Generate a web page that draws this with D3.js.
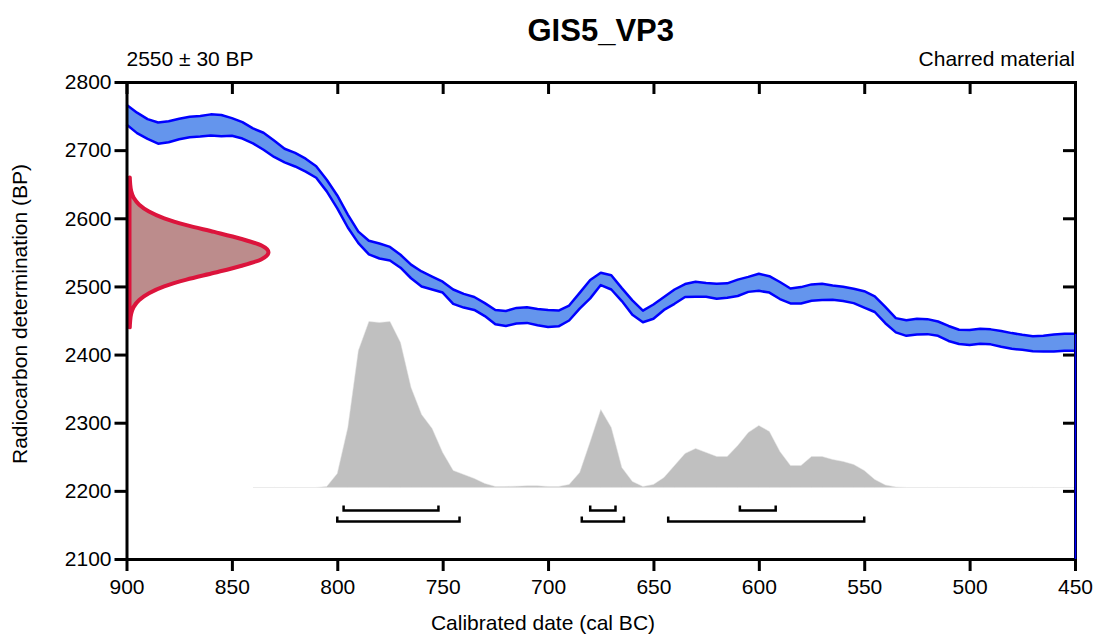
<!DOCTYPE html>
<html>
<head>
<meta charset="utf-8">
<script src="https://cdn.jsdelivr.net/npm/d3@7"></script>
<style>
  body { margin: 0; background: #fff; }
  svg { font-family: "Liberation Sans", Arial, sans-serif; }
</style>
</head>
<body>
<div id="chart"></div>
<script>
// Calibration plot, drawn with d3

// calibration curve (cal BC -> radiocarbon BP, mean and 1 sigma)
var calYears = [900,895,890,885,880,875,870,865,860,855,850,845,840,835,830,825,820,815,810,805,
  800,795,790,785,780,775,770,765,760,755,750,745,740,735,730,725,720,715,710,705,
  700,695,690,685,680,675,670,665,660,655,650,645,640,635,630,625,620,615,610,605,
  600,595,590,585,580,575,570,565,560,555,550,545,540,535,530,525,520,515,510,505,
  500,495,490,485,480,475,470,465,460,455,450];
var calMean = [2752,2740,2731,2725,2727,2731,2734,2735,2737,2736,2734,2729,2721,2713,2702,2692,2686,2678,2668,2648,
  2624,2596,2572,2557,2552,2548,2537,2522,2511,2505,2499,2485,2479,2475,2466,2455,2453,2457,2458,2455,
  2453,2453,2461,2479,2496,2511,2506,2488,2469,2456,2463,2475,2485,2494,2496,2495,2493,2494,2498,2503,
  2506,2503,2494,2486,2487,2491,2492,2491,2489,2486,2481,2474,2458,2443,2439,2441,2441,2438,2431,2426,
  2425,2427,2426,2423,2420,2418,2416,2416,2417,2418,2418];
var calSigma = [14.5,15,14.5,15.5,15.5,15,15,15,15.5,15.5,13,12,11,12.5,12,10,10,9.5,8.5,8.5,
  9.5,9.5,8.5,10,11,10,9.5,10,11,9.5,8,10.5,10,9.5,9.5,10.5,11,11.5,11.5,12,
  12.5,11.5,11,11.5,13.5,9,10.5,9.5,10.5,8.5,10.5,9.5,10.5,9.5,11,10,11,10.5,12,11,
  12.5,12,12.5,11,12,12,12,10.5,10.5,10.5,12,11.5,12,10.5,11.5,11.5,11,10.5,11,10.5,
  11,11,11,11.5,11.5,11,11,11.5,12.5,12.5,12.5];

// measured date 2550 +- 30 BP, relative probability
var measBP = [2660,2650,2640,2630,2620,2610,2600,2590,2580,2570,2560,2550,
  2540,2530,2520,2510,2500,2490,2480,2470,2460,2450,2440];
var measProb = [0.002,0.005,0.012,0.03,0.07,0.14,0.25,0.41,0.61,0.8,0.95,1,
  0.95,0.8,0.61,0.41,0.25,0.14,0.07,0.03,0.012,0.005,0.002];

// calibrated distribution (relative)
var postYears = [840,835,830,825,820,815,810,805,800,795,790,785,780,775,770,765,760,755,750,745,
  740,735,730,725,720,715,710,705,700,695,690,685,680,675,670,665,660,655,650,645,
  640,635,630,625,620,615,610,605,600,595,590,585,580,575,570,565,560,555,550,545,
  540,535,530,525,520,515,510,505,500,495,490,485,480,475,470,465,460,455,450];
var postProb = [0,0,0,0,0,0,0,1,14,60,137,166,165,166,145,100,73,59,35,17,
  13,9,4,1,1,1.3,1.7,1.7,1,1,3,15,46,78,60,20,6,1,3,10,
  22,34,39,35,31,31,42,55,62,56,36,22,22,31,31,28,26,23,17,8,
  2.5,0.5,0,0,0,0,0,0,0,0,0,0,0,0,0,0,0,0,0];

// ranges (cal BC)
var range68 = [[797,752],[680,668],[609,592]];
var range95 = [[800,742],[684,664],[643,550]];

var xTicks = [900,850,800,750,700,650,600,550,500,450];
var yTicks = [2100,2200,2300,2400,2500,2600,2700,2800];

var width = 1093, height = 634;
var margin = {top: 82, right: 18, bottom: 75, left: 126.5};

var svg = d3.select("#chart").append("svg")
  .attr("width", width)
  .attr("height", height);

var x = d3.scaleLinear().domain([900, 450]).range([margin.left, width - margin.right]);
var y = d3.scaleLinear().domain([2100, 2800]).range([height - margin.bottom, margin.top]);

// titles
svg.append("text")
  .attr("x", (margin.left + width - margin.right) / 2)
  .attr("y", 41)
  .attr("text-anchor", "middle")
  .style("font-size", "31px")
  .style("font-weight", "bold")
  .text("GIS5_VP3");

svg.append("text")
  .attr("x", margin.left)
  .attr("y", 66)
  .style("font-size", "21px")
  .text("2550 \u00b1 30 BP");

svg.append("text")
  .attr("x", width - margin.right)
  .attr("y", 66)
  .attr("text-anchor", "end")
  .style("font-size", "21px")
  .text("Charred material");

// calibrated distribution (grey)
var base = y(2205);
var hScale = d3.scaleLinear().domain([0, d3.max(postProb)]).range([0, 166]);
var post = postYears.map(function(d, i){ return {yr: d, p: postProb[i]}; });
svg.append("path")
  .datum(post)
  .attr("fill", "#c0c0c0")
  .attr("stroke", "#e2e2e2")
  .attr("stroke-width", 0.5)
  .attr("d", d3.area()
    .x(function(d){ return x(d.yr); })
    .y0(base)
    .y1(function(d){ return base - hScale(d.p); }));

// range brackets
function brackets(ranges, rowY) {
  svg.append("g").selectAll("path")
    .data(ranges)
    .enter()
    .append("path")
      .attr("fill", "none")
      .attr("stroke", "#000")
      .attr("stroke-width", 2.5)
      .attr("d", function(d){
        return "M" + x(d[0]) + "," + (rowY - 5) + "V" + rowY + "H" + x(d[1]) + "V" + (rowY - 5);
      });
}
brackets(range68, base + 23);
brackets(range95, base + 34);

// measured date (red)
var x0 = margin.left + 3;
var dScale = d3.scaleLinear().domain([0, 1]).range([x0, x0 + 139]);
var meas = measBP.map(function(d, i){ return {bp: d, p: measProb[i]}; });
svg.append("path")
  .datum(meas)
  .attr("fill", "#bc8c8c")
  .attr("stroke", "#dc143c")
  .attr("stroke-width", 4)
  .attr("stroke-linejoin", "round")
  .attr("d", d3.area()
    .y(function(d){ return y(d.bp); })
    .x0(x0)
    .x1(function(d){ return dScale(d.p); })
    .curve(d3.curveMonotoneY));

// calibration curve (blue band)
var cal = calYears.map(function(d, i){
  return {yr: d, hi: calMean[i] + calSigma[i], lo: calMean[i] - calSigma[i]};
});
svg.append("path")
  .datum(cal)
  .attr("fill", "#6495ed")
  .attr("d", d3.area()
    .x(function(d){ return x(d.yr); })
    .y0(function(d){ return y(d.lo); })
    .y1(function(d){ return y(d.hi); }));

["hi", "lo"].forEach(function(k){
  svg.append("path")
    .datum(cal)
    .attr("fill", "none")
    .attr("stroke", "#0000ff")
    .attr("stroke-width", 2.5)
    .attr("stroke-linejoin", "round")
    .attr("d", d3.line()
      .x(function(d){ return x(d.yr); })
      .y(function(d){ return y(d[k]); }));
});

// axes
function styleAxis(g) {
  g.select(".domain").attr("stroke-width", 3).attr("stroke-linecap", "square");
  g.selectAll(".tick line").attr("stroke-width", 3);
  g.selectAll(".tick text").style("font-size", "21px").attr("fill", "#000");
}

svg.append("g")
  .attr("transform", "translate(0," + y(2100) + ")")
  .call(d3.axisBottom(x).tickValues(xTicks).tickSize(12).tickPadding(8).tickSizeOuter(0))
  .call(styleAxis);

svg.append("g")
  .attr("transform", "translate(0," + y(2800) + ")")
  .call(d3.axisTop(x).tickValues(xTicks).tickSize(-12).tickFormat("").tickSizeOuter(0))
  .call(styleAxis);

svg.append("g")
  .attr("transform", "translate(" + x(900) + ",0)")
  .call(d3.axisLeft(y).tickValues(yTicks).tickSize(12).tickPadding(3)
    .tickFormat(d3.format("d")).tickSizeOuter(0))
  .call(styleAxis);

svg.append("g")
  .attr("transform", "translate(" + x(450) + ",0)")
  .call(d3.axisRight(y).tickValues(yTicks).tickSize(-12).tickFormat("").tickSizeOuter(0))
  .call(styleAxis);

// curve edge running off the right side
var last = cal[cal.length - 1];
svg.append("line")
  .attr("x1", x(last.yr) + 0.5).attr("x2", x(last.yr) + 0.5)
  .attr("y1", y(last.hi)).attr("y2", y(2100))
  .attr("stroke", "#0000ff")
  .attr("stroke-width", 1.6);

// axis titles
svg.append("text")
  .attr("x", 543)
  .attr("y", 630)
  .attr("text-anchor", "middle")
  .style("font-size", "21px")
  .text("Calibrated date (cal BC)");

svg.append("text")
  .attr("transform", "translate(27,314) rotate(-90)")
  .attr("text-anchor", "middle")
  .style("font-size", "21px")
  .text("Radiocarbon determination (BP)");
</script>
</body>
</html>
